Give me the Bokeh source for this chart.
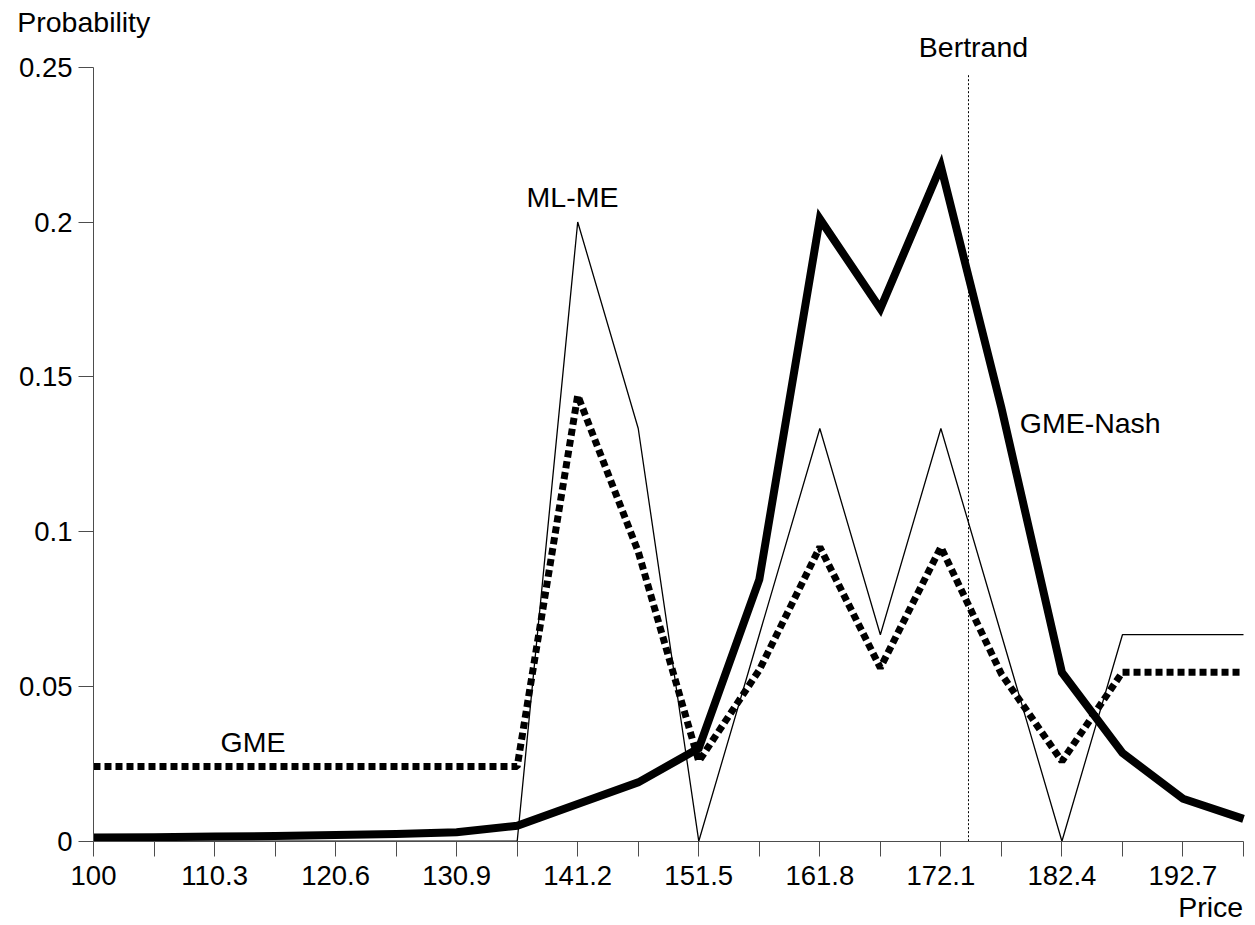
from bokeh.plotting import figure
from bokeh.models import Range1d, FixedTicker, Label
from bokeh.embed import file_html
from bokeh.resources import INLINE

# ---- data ----
prices = [100, 105.15, 110.3, 115.45, 120.6, 125.75, 130.9, 136.05, 141.2, 146.35,
          151.5, 156.65, 161.8, 166.95, 172.1, 177.25, 182.4, 187.55, 192.7, 197.85]

gme_nash = [0.0012, 0.0013, 0.0015, 0.0017, 0.0020, 0.0023, 0.0029, 0.0050, 0.0120, 0.0190,
            0.0300, 0.0845, 0.2010, 0.1720, 0.2180, 0.1400, 0.0545, 0.0285, 0.0137, 0.0072]

ml_me = [0, 0, 0, 0, 0, 0, 0, 0, 0.2000, 0.1333,
         0, 0.0667, 0.1333, 0.0667, 0.1333, 0.0667, 0, 0.0667, 0.0667, 0.0667]

gme = [0.0241, 0.0241, 0.0241, 0.0241, 0.0241, 0.0241, 0.0241, 0.0241, 0.1440, 0.0935,
       0.0258, 0.0553, 0.0950, 0.0560, 0.0950, 0.0540, 0.0258, 0.0546, 0.0546, 0.0546]

bertrand_price = 174.45
bertrand_top = 0.248

x_tick_values = prices[::2]
x_minor_values = prices[1::2]
x_tick_labels = ["100", "110.3", "120.6", "130.9", "141.2", "151.5", "161.8", "172.1", "182.4", "192.7"]

y_ticks = [0, 0.05, 0.1, 0.15, 0.2, 0.25]
y_tick_labels = ["0", "0.05", "0.1", "0.15", "0.2", "0.25"]

FONT = "Liberation Sans"
AXIS_COLOR = "#4d4d4d"

# frame fills the whole canvas; axes are pinned at data locations
p = figure(width=1250, height=922, output_backend="svg", toolbar_location=None,
           x_range=Range1d(92.087, 198.445), y_range=Range1d(-0.02626, 0.27155),
           min_border=0, min_border_left=0, min_border_right=0,
           min_border_top=0, min_border_bottom=0)
p.outline_line_color = None
p.grid.visible = False
p.background_fill_color = "white"
p.border_fill_color = "white"

# x axis
xa = p.xaxis[0]
xa.fixed_location = y_ticks[0]
xa.ticker = FixedTicker(ticks=x_tick_values, minor_ticks=x_minor_values)
xa.major_label_overrides = dict(zip(x_tick_values, x_tick_labels))
xa.bounds = (prices[0], prices[-1])
xa.major_tick_in = 0
xa.major_tick_out = 15
xa.minor_tick_in = 0
xa.minor_tick_out = 15
xa.major_label_standoff = 10

# y axis
ya = p.yaxis[0]
ya.fixed_location = prices[0]
ya.ticker = FixedTicker(ticks=y_ticks)
ya.major_label_overrides = dict(zip(y_ticks, y_tick_labels))
ya.bounds = (y_ticks[0], y_ticks[-1])
ya.major_tick_in = 0
ya.major_tick_out = 15
ya.minor_tick_line_color = None
ya.major_label_standoff = 6

for ax in (xa, ya):
    ax.axis_line_color = AXIS_COLOR
    ax.major_tick_line_color = AXIS_COLOR
    ax.major_label_text_font = FONT
    ax.major_label_text_font_size = "27.5px"
    ax.major_label_text_color = "black"
xa.minor_tick_line_color = AXIS_COLOR

# series
p.line(prices, ml_me, line_width=1.3, line_color="black")
p.line(prices, gme, line_width=7, line_color="black", line_dash="7 4", line_cap="butt")
p.line(prices, gme_nash, line_width=8, line_color="black", line_join="miter")

# Bertrand reference line
p.segment(x0=[bertrand_price], y0=[0], x1=[bertrand_price], y1=[bertrand_top],
          line_color="black", line_width=1, line_dash="2 2")

def add_label(x, y, text, align="left", x_offset=0):
    p.add_layout(Label(x=x, y=y, text=text, text_font=FONT, text_font_size="28.5px",
                       text_color="black", text_align=align, text_baseline="alphabetic",
                       x_offset=x_offset))

add_label(bertrand_price, 0.2566, "Bertrand", align="center", x_offset=5)
add_label(140.755, 0.2082, "ML-ME", align="center")
add_label(178.81, 0.1350, "GME-Nash")
add_label(110.81, 0.0321, "GME")
add_label(93.51, 0.2645, "Probability")
add_label(197.82, -0.0211, "Price", align="right")

open("out.html", "w").write(file_html(p, INLINE))
